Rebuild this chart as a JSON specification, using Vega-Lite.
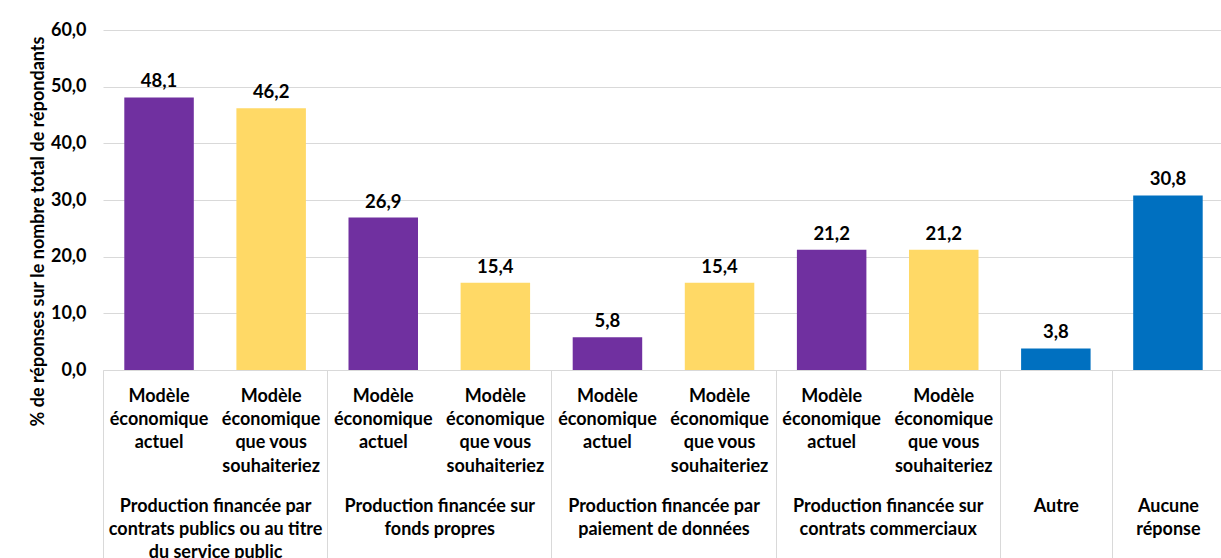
{
  "$schema": "https://vega.github.io/schema/vega-lite/v6.json",
  "autosize": "none",
  "padding": {"left": 103, "top": 30, "right": 0, "bottom": 188},
  "width": 1118,
  "height": 340,
  "config": {
    "font": "Lato",
    "view": {"stroke": null},
    "axis": {"labelFont": "Lato", "titleFont": "Lato", "labelColor": "#000000", "titleColor": "#000000", "labelFontWeight": "bold", "titleFontWeight": "bold", "labelLimit": 500}
  },
  "layer": [
    {
      "data": {"values": [
        {"id": "A1", "type": "actuel", "v": 48.1},
        {"id": "S1", "type": "souhait", "v": 46.2},
        {"id": "A2", "type": "actuel", "v": 26.9},
        {"id": "S2", "type": "souhait", "v": 15.4},
        {"id": "A3", "type": "actuel", "v": 5.8},
        {"id": "S3", "type": "souhait", "v": 15.4},
        {"id": "A4", "type": "actuel", "v": 21.2},
        {"id": "S4", "type": "souhait", "v": 21.2},
        {"id": "X1", "type": "autre", "v": 3.8},
        {"id": "X2", "type": "autre", "v": 30.8}
      ]},
      "transform": [{"calculate": "replace(format(datum.v, '.1f'), '.', ',')", "as": "lbl"}],
      "encoding": {
        "x": {
          "field": "id", "type": "nominal", "sort": null,
          "scale": {"paddingInner": 0.38, "paddingOuter": 0.19, "range": [0, 1121]},
          "axis": {
            "title": null, "labelAngle": 0, "ticks": false, "domain": true, "domainColor": "#d9d9d9",
            "labelFontSize": 18, "labelLineHeight": 23.4, "labelPadding": 17, "labelBaseline": "top",
            "labelExpr": "test(/^A/, datum.value) ? ['Modèle', 'économique', 'actuel'] : test(/^S/, datum.value) ? ['Modèle', 'économique', 'que vous', 'souhaiteriez'] : ''"
          }
        },
        "y": {
          "field": "v", "type": "quantitative",
          "scale": {"domain": [0, 60]},
          "axis": {
            "values": [0, 10, 20, 30, 40, 50, 60], "grid": true, "gridColor": "#d9d9d9", "domain": false, "ticks": false,
            "labelFontSize": 18, "labelPadding": 17,
            "labelExpr": "replace(format(datum.value, '.1f'), '.', ',')",
            "title": "% de réponses sur le nombre total de répondants", "titleFontSize": 18,
            "titleX": -65, "titleY": 201, "titleAngle": -90, "titleBaseline": "middle", "titleAlign": "center"
          }
        }
      },
      "layer": [
        {
          "mark": {"type": "bar"},
          "encoding": {
            "color": {"field": "type", "type": "nominal", "legend": null,
              "scale": {"domain": ["actuel", "souhait", "autre"], "range": ["#7030A0", "#FFD966", "#0070C0"]}}
          }
        },
        {
          "mark": {"type": "text", "baseline": "bottom", "dy": -6, "fontSize": 18.5, "fontWeight": "bold", "font": "Lato", "color": "#000000"},
          "encoding": {"text": {"field": "lbl"}}
        }
      ]
    },
    {
      "data": {"values": [{"c": 0}, {"c": 10}]},
      "mark": {"type": "rule", "opacity": 0},
      "encoding": {
        "x": {
          "field": "c", "type": "quantitative",
          "scale": {"domain": [0, 10], "range": [0, 1121], "nice": false, "zero": false},
          "axis": {
            "orient": "bottom", "title": null, "domain": false, "grid": false,
            "values": [0, 2, 4, 6, 8, 9, 10], "ticks": true, "tickSize": 200, "tickColor": "#d9d9d9", "tickWidth": 1,
            "labels": false
          }
        }
      }
    },
    {
      "data": {"values": [{"c": 0}, {"c": 10}]},
      "mark": {"type": "rule", "opacity": 0},
      "encoding": {
        "x": {
          "field": "c", "type": "quantitative",
          "scale": {"domain": [0, 10], "range": [0, 1121], "nice": false, "zero": false},
          "axis": {
            "orient": "bottom", "title": null, "domain": false, "grid": false, "ticks": false,
            "values": [1, 3, 5, 7, 8.5, 9.5],
            "labelOverlap": false, "labelBound": false, "labelFlush": false,
            "labelFontSize": 18, "labelLineHeight": 23.4, "labelPadding": 127, "labelBaseline": "top",
            "labelExpr": "datum.value == 1 ? ['Production financée par', 'contrats publics ou au titre', 'du service public'] : datum.value == 3 ? ['Production financée sur', 'fonds propres'] : datum.value == 5 ? ['Production financée par', 'paiement de données'] : datum.value == 7 ? ['Production financée sur', 'contrats commerciaux'] : datum.value == 8.5 ? 'Autre' : ['Aucune', 'réponse']"
          }
        }
      }
    }
  ],
  "resolve": {"scale": {"x": "independent"}, "axis": {"x": "independent"}}
}
